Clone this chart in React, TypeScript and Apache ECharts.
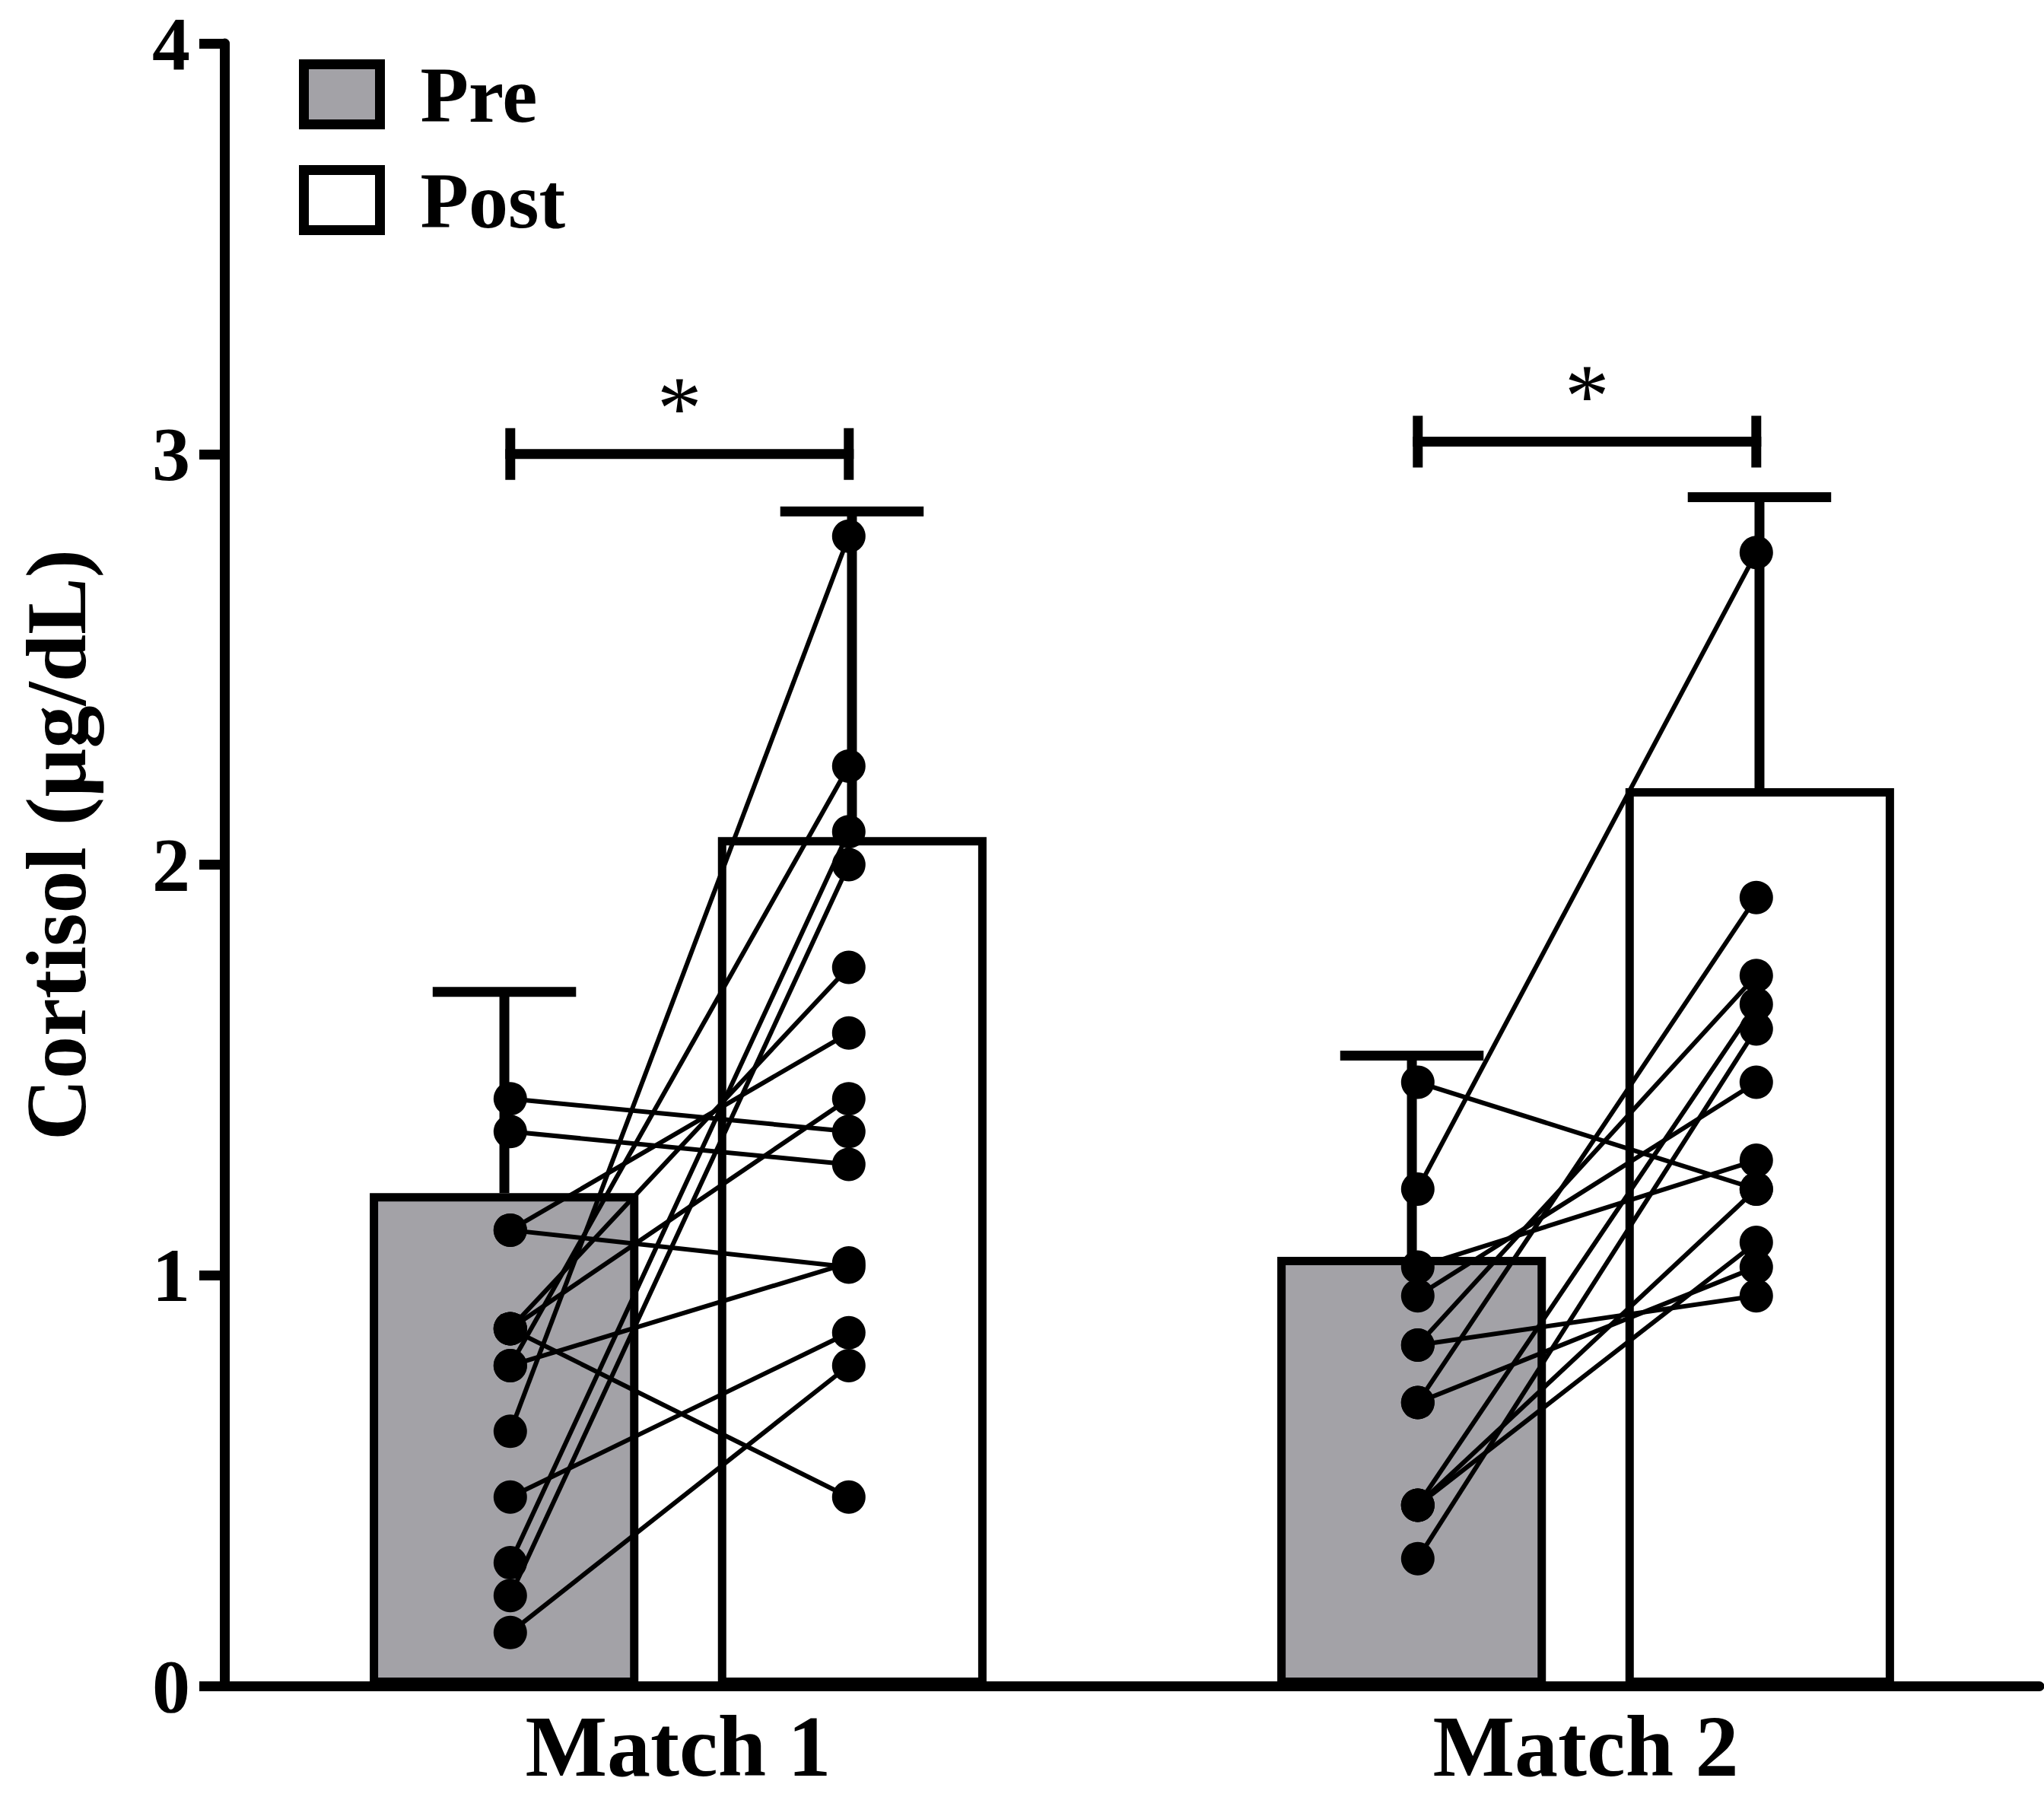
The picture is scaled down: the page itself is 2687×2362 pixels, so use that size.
import { useEffect, useRef } from 'react';
import * as echarts from 'echarts';

// ---------- data ----------
const categories = ['Match 1', 'Match 2'];
const seriesNames = ['Pre', 'Post'];
const preMeans = [1.2, 1.045];
const postMeans = [2.067, 2.186];
const preErrTop = [1.69, 1.535];
const postErrTop = [2.86, 2.895];
const yTicks = [0, 1, 2, 3, 4];
// paired individual values [pre, post]
const match1Pairs = [
  [1.43, 1.35], [1.35, 1.27], [1.11, 1.59], [1.11, 1.02], [0.87, 1.75],
  [0.87, 1.43], [0.87, 0.46], [0.78, 2.24], [0.78, 1.03], [0.62, 2.80],
  [0.46, 0.86], [0.30, 2.08], [0.22, 2.00], [0.13, 0.78],
];
const match2Pairs = [
  [1.47, 1.21], [1.21, 2.76], [1.02, 1.28], [0.95, 1.47], [0.83, 1.73],
  [0.83, 0.95], [0.69, 1.92], [0.69, 1.02], [0.44, 1.66], [0.44, 1.08],
  [0.44, 1.21], [0.31, 1.60],
];
const sigLabels = ['*', '*'];
const sigHeights = [3.0, 3.03];

// ---------- layout constants (band units / px) ----------
const FONT = "'Liberation Serif', 'Times New Roman', serif";
const BAR_OFFSET = 0.1915;
const DOT_PRE = -0.185;
const DOT_POST = 0.188;
const CAP_HALF = 0.079;

const allPairs = [match1Pairs, match2Pairs];

const errData: number[][] = [];
categories.forEach((_, i) => {
  errData.push([i + 0.5 - BAR_OFFSET, preMeans[i], preErrTop[i]]);
  errData.push([i + 0.5 + BAR_OFFSET, postMeans[i], postErrTop[i]]);
});

const pairLineData: number[][] = [];
const dotData: number[][] = [];
allPairs.forEach((pairs, m) => {
  pairs.forEach(([pre, post]) => {
    pairLineData.push([m, pre, post]);
    dotData.push([m + 0.5 + DOT_PRE, pre]);
    dotData.push([m + 0.5 + DOT_POST, post]);
  });
});

const bracketData = categories.map((_, i) => [i + 0.5 + DOT_PRE, i + 0.5 + DOT_POST, sigHeights[i], i]);

const blackLine = (x1: number, y1: number, x2: number, y2: number, w: number) => ({
  type: 'line',
  shape: { x1, y1, x2, y2 },
  style: { stroke: '#000', lineWidth: w },
});

const option: any = {
  animation: false,
  backgroundColor: '#ffffff',
  textStyle: { fontFamily: FONT },
  grid: {
    left: 295, right: 6, top: 57, bottom: 146,
    containLabel: false,
    outerBoundsMode: 'none',
  },
  legend: {
    data: seriesNames,
    orient: 'vertical',
    left: 388,
    top: 67,
    itemWidth: 100,
    itemHeight: 79,
    itemGap: 35,
    icon: 'rect',
    selectedMode: false,
    itemStyle: { borderColor: '#000', borderWidth: 13 },
    textStyle: { fontFamily: FONT, fontSize: 104, fontWeight: 'bold', color: '#000', padding: [0, 0, 0, 48] },
  },
  xAxis: [
    {
      type: 'category',
      data: categories,
      axisLine: { lineStyle: { color: '#000', width: 13 } },
      axisTick: { alignWithLabel: true, length: 34, lineStyle: { color: '#000', width: 12 } },
      axisLabel: {
        color: '#000', fontSize: 114, fontWeight: 'bold', fontFamily: FONT, margin: 22, lineHeight: 114,
      },
      splitLine: { show: false },
    },
    { type: 'value', min: 0, max: 2, show: false },
  ],
  yAxis: {
    type: 'value',
    min: yTicks[0],
    max: yTicks[yTicks.length - 1],
    interval: 1,
    name: 'Cortisol (µg/dL)',
    nameLocation: 'middle',
    nameRotate: 90,
    nameGap: 165,
    nameTextStyle: {
      color: '#000', fontSize: 112, fontWeight: 'bold', fontFamily: FONT, lineHeight: 112, padding: [0, 0, 0, 52],
    },
    axisLine: { show: true, lineStyle: { color: '#000', width: 13 } },
    axisTick: { show: true, length: 33, lineStyle: { color: '#000', width: 13 } },
    axisLabel: { color: '#000', fontSize: 100, fontWeight: 'bold', fontFamily: FONT, margin: 45 },
    splitLine: { show: false },
  },
  series: [
    {
      type: 'bar',
      name: seriesNames[0],
      data: preMeans,
      barWidth: '29.6%',
      barGap: '29.6%',
      itemStyle: { color: '#a3a2a7', borderColor: '#000', borderWidth: 11 },
      z: 2,
    },
    {
      type: 'bar',
      name: seriesNames[1],
      data: postMeans,
      barWidth: '29.6%',
      barGap: '29.6%',
      itemStyle: { color: '#ffffff', borderColor: '#000', borderWidth: 11 },
      z: 2,
    },
    {
      type: 'custom',
      xAxisIndex: 1,
      data: errData,
      encode: { x: 0, y: 2 },
      z: 3,
      renderItem: (_p: any, api: any) => {
        const x = api.value(0), lo = api.value(1), hi = api.value(2);
        const a = api.coord([x, lo]);
        const b = api.coord([x, hi]);
        const l = api.coord([x - CAP_HALF, hi]);
        const r = api.coord([x + CAP_HALF, hi]);
        return {
          type: 'group',
          children: [blackLine(a[0], a[1], b[0], b[1], 13), blackLine(l[0], l[1], r[0], r[1], 13)],
        };
      },
    },
    {
      type: 'custom',
      xAxisIndex: 1,
      data: pairLineData,
      encode: { x: 0, y: 1 },
      z: 4,
      renderItem: (_p: any, api: any) => {
        const m = api.value(0), pre = api.value(1), post = api.value(2);
        const a = api.coord([m + 0.5 + DOT_PRE, pre]);
        const b = api.coord([m + 0.5 + DOT_POST, post]);
        return blackLine(a[0], a[1], b[0], b[1], 6);
      },
    },
    {
      type: 'scatter',
      xAxisIndex: 1,
      data: dotData,
      symbol: 'circle',
      symbolSize: 44,
      itemStyle: { color: '#000', opacity: 1 },
      z: 5,
    },
    {
      type: 'custom',
      xAxisIndex: 1,
      data: bracketData,
      encode: { x: [0, 1], y: 2 },
      z: 6,
      renderItem: (_p: any, api: any) => {
        const x1 = api.value(0), x2 = api.value(1), y = api.value(2), idx = api.value(3);
        const a = api.coord([x1, y]);
        const b = api.coord([x2, y]);
        return {
          type: 'group',
          children: [
            blackLine(a[0] - 6.5, a[1], b[0] + 6.5, b[1], 13),
            blackLine(a[0], a[1] - 34, a[0], a[1] + 34, 13),
            blackLine(b[0], b[1] - 34, b[0], b[1] + 34, 13),
            {
              type: 'text',
              x: (a[0] + b[0]) / 2,
              y: a[1] - 60,
              style: {
                text: sigLabels[idx],
                fill: '#000',
                font: `normal 118px ${FONT}`,
                align: 'center',
                verticalAlign: 'middle',
              },
            },
          ],
        };
      },
    },
  ],
};

export default function App() {
  const ref = useRef<HTMLDivElement>(null);
  useEffect(() => {
    if (!ref.current) return;
    const chart = echarts.init(ref.current, undefined, { renderer: 'svg' });
    chart.setOption(option);
    return () => chart.dispose();
  }, []);
  return (
    <div
      ref={ref}
      style={{ position: 'absolute', left: 0, top: 0, width: 2687, height: 2362, background: '#fff' }}
    />
  );
}
